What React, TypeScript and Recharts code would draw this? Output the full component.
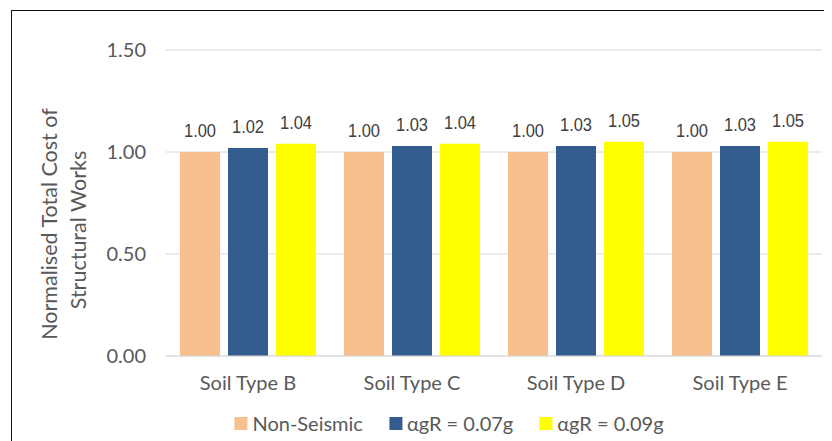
import React from "react";
import {
  BarChart, Bar, XAxis, YAxis, CartesianGrid, LabelList,
} from "recharts";

const categories = ["Soil Type B", "Soil Type C", "Soil Type D", "Soil Type E"];
const nonSeismic = [1.0, 1.0, 1.0, 1.0];
const ag007 = [1.02, 1.03, 1.03, 1.03];
const ag009 = [1.04, 1.04, 1.05, 1.05];
const yTicks = [0, 0.5, 1, 1.5];

const SERIES = [
  { key: "nonSeismic", name: "Non-Seismic", color: "#F8BF8F" },
  { key: "ag007", name: "αgR = 0.07g", color: "#345D8F" },
  { key: "ag009", name: "αgR = 0.09g", color: "#FFFF00" },
];

const data = categories.map((c, i) => ({
  name: c,
  nonSeismic: nonSeismic[i],
  ag007: ag007[i],
  ag009: ag009[i],
}));

const FONT = "Lato, 'Open Sans', sans-serif";
const GREY = "#595959";

function YTitle() {
  return (
    <g fill={GREY} fontFamily={FONT} fontSize={21.5}>
      <text x={49} y={216} textAnchor="middle" transform="rotate(-90, 49, 216)">
        Normalised Total Cost of
      </text>
      <text x={77.5} y={222} textAnchor="middle" transform="rotate(-90, 77.5, 222)">
        Structural Works
      </text>
    </g>
  );
}

function ValueLabel(props: any) {
  const { x, y, width, value } = props;
  const cx = x + width / 2;
  const by = y - 15;
  return (
    <g transform={`translate(${cx} ${by}) scale(1 1.12)`}>
      <text
        x={0}
        y={0}
        textAnchor="middle"
        fill="#404040"
        fontFamily="'Liberation Sans', Arial, Helvetica, sans-serif"
        fontSize={16.5}
      >
        {Number(value).toFixed(2)}
      </text>
    </g>
  );
}

function ChartLegend() {
  return (
    <div
      style={{
        position: "absolute",
        left: 441,
        top: 402,
        transform: "translateX(-50%)",
        display: "flex",
        alignItems: "center",
        gap: 26,
        whiteSpace: "nowrap",
        fontFamily: FONT,
        fontSize: 20,
        color: GREY,
        lineHeight: "26px",
      }}
    >
      {SERIES.map((s) => (
        <div key={s.key} style={{ display: "flex", alignItems: "center", gap: 5 }}>
          <span style={{ width: 13, height: 13, background: s.color, display: "inline-block" }} />
          <span>{s.name}</span>
        </div>
      ))}
    </div>
  );
}

export default function App() {
  return (
    <div style={{ position: "relative", width: 824, height: 433 }}>
      <div
        style={{
          position: "absolute",
          left: 3,
          top: 2,
          width: 840,
          height: 450,
          borderLeft: "1px solid #111",
          borderTop: "1px solid #111",
        }}
      />
      <BarChart
        width={824}
        height={433}
        data={data}
        margin={{ top: 42, right: 10, left: 0, bottom: 45 }}
        barGap={8}
        barSize={40}
      >
        <CartesianGrid vertical={false} stroke="#D9D9D9" strokeWidth={1.2} />
        <XAxis
          dataKey="name"
          height={40}
          axisLine={{ stroke: "#D9D9D9", strokeWidth: 1.2 }}
          tickLine={false}
          tickSize={0}
          tickMargin={20}
          tick={{ fill: GREY, fontSize: 20, fontFamily: FONT }}
        />
        <YAxis
          width={158}
          domain={[0, 1.5]}
          ticks={yTicks}
          axisLine={false}
          tickLine={false}
          tickSize={0}
          tickMargin={20}
          tickFormatter={(v: number) => v.toFixed(2)}
          tick={{ fill: GREY, fontSize: 20, fontFamily: FONT }}
          label={{ content: () => <YTitle /> }}
        />
        {SERIES.map((s) => (
          <Bar key={s.key} dataKey={s.key} name={s.name} fill={s.color} isAnimationActive={false}>
            <LabelList dataKey={s.key} content={<ValueLabel />} />
          </Bar>
        ))}
      </BarChart>
      <ChartLegend />
    </div>
  );
}
